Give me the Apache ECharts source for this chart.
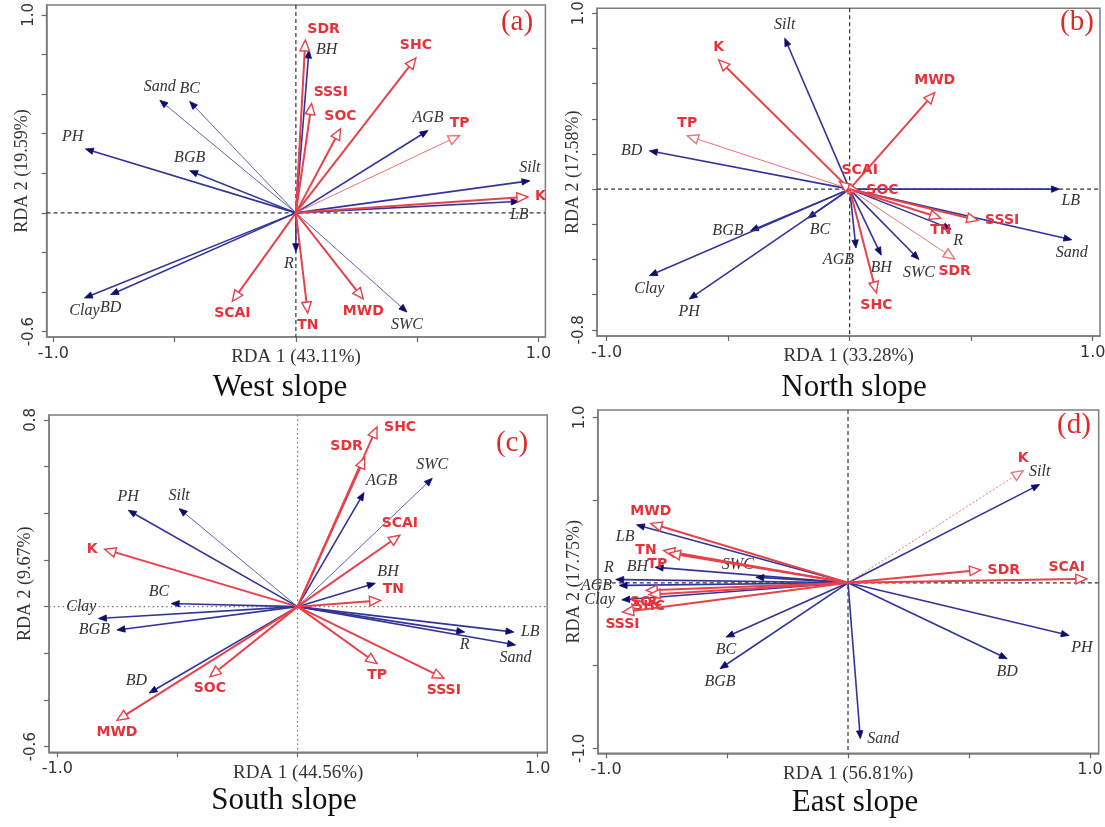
<!DOCTYPE html>
<html>
<head>
<meta charset="utf-8">
<script src="https://cdn.jsdelivr.net/npm/echarts@6/dist/echarts.min.js"></script>
<style>html,body{margin:0;padding:0;background:#fff}#c{width:1105px;height:827px}</style>
</head>
<body>
<div id="c"></div>
<script>
// ---------------- DATA ----------------
const panelTitles = ['West slope', 'North slope', 'South slope', 'East slope'];
const panelTags = ['(a)', '(b)', '(c)', '(d)'];
const xAxisNames = ['RDA 1 (43.11%)', 'RDA 1 (33.28%)', 'RDA 1 (44.56%)', 'RDA 1 (56.81%)'];
const yAxisNames = ['RDA 2 (19.59%)', 'RDA 2 (17.58%)', 'RDA 2 (9.67%)', 'RDA 2 (17.75%)'];
const xTickLabels = [-1.0, 1.0];
const yTickLabelsWest = [-0.6, 1.0];
const yTickLabelsNorth = [-0.8, 1.0];
const yTickLabelsSouth = [-0.6, 0.8];
const yTickLabelsEast = [-1.0, 1.0];

// West slope (a)
const westBlueNames = ['BH', 'Sand', 'BC', 'PH', 'BGB', 'AGB', 'Silt', 'LB', 'R', 'Clay', 'BD', 'SWC'];
const westBlueRDA1 = [0.054, -0.561, -0.438, -0.868, -0.438, 0.545, 0.965, 0.921, 0.000, -0.872, -0.764, 0.458];
const westBlueRDA2 = [0.822, 0.569, 0.563, 0.323, 0.213, 0.416, 0.162, 0.058, -0.196, -0.430, -0.413, -0.501];
const westRedNames = ['SDR', 'SHC', 'SSSI', 'SOC', 'TP', 'K', 'SCAI', 'TN', 'MWD'];
const westRedRDA1 = [0.039, 0.495, 0.065, 0.184, 0.675, 0.957, -0.262, 0.049, 0.278];
const westRedRDA2 = [0.873, 0.783, 0.552, 0.425, 0.391, 0.081, -0.447, -0.506, -0.435];

// North slope (b)
const northBlueNames = ['Silt', 'BD', 'LB', 'Sand', 'R', 'BGB', 'BC', 'AGB', 'BH', 'SWC', 'Clay', 'PH'];
const northBlueRDA1 = [-0.267, -0.824, 0.863, 0.914, 0.418, -0.408, -0.172, 0.026, 0.130, 0.285, -0.824, -0.660];
const northBlueRDA2 = [0.858, 0.218, 0.000, -0.288, -0.227, -0.237, -0.165, -0.335, -0.376, -0.400, -0.492, -0.625];
const northRedNames = ['K', 'TP', 'MWD', 'SCAI', 'SOC', 'TN', 'SSSI', 'SDR', 'SHC'];
const northRedRDA1 = [-0.539, -0.668, 0.350, -0.042, 0.040, 0.375, 0.528, 0.432, 0.110];
const northRedRDA2 = [0.735, 0.303, 0.549, 0.043, -0.008, -0.165, -0.178, -0.397, -0.590];

// South slope (c)
const southBlueNames = ['PH', 'Silt', 'BC', 'Clay', 'BGB', 'BD', 'AGB', 'SWC', 'BH', 'LB', 'R', 'Sand'];
const southBlueRDA1 = [-0.705, -0.493, -0.526, -0.829, -0.752, -0.618, 0.277, 0.561, 0.324, 0.901, 0.696, 0.908];
const southBlueRDA2 = [0.413, 0.420, 0.013, -0.051, -0.100, -0.370, 0.489, 0.550, 0.100, -0.109, -0.109, -0.164];
const southRedNames = ['SHC', 'SDR', 'SCAI', 'TN', 'K', 'SOC', 'MWD', 'TP', 'SSSI'];
const southRedRDA1 = [0.331, 0.280, 0.426, 0.346, -0.803, -0.365, -0.752, 0.331, 0.609];
const southRedRDA2 = [0.770, 0.639, 0.306, 0.027, 0.246, -0.300, -0.487, -0.244, -0.307];

// East slope (d)
const eastBlueNames = ['Silt', 'LB', 'BH', 'SWC', 'R', 'AGB', 'Clay', 'BC', 'BGB', 'Sand', 'BD', 'PH'];
const eastBlueRDA1 = [0.792, -0.874, -0.797, -0.381, -0.960, -0.946, -0.935, -0.504, -0.529, 0.051, 0.658, 0.914];
const eastBlueRDA2 = [0.594, 0.350, 0.094, 0.034, 0.020, -0.016, -0.103, -0.328, -0.519, -0.942, -0.459, -0.318];
const eastRedNames = ['K', 'MWD', 'TN', 'TP', 'SDR', 'SCAI', 'SOC', 'SHC', 'SSSI'];
const eastRedRDA1 = [0.724, -0.815, -0.762, -0.739, 0.548, 0.987, -0.834, -0.822, -0.932];
const eastRedRDA2 = [0.678, 0.359, 0.195, 0.179, 0.078, 0.024, -0.046, -0.071, -0.177];

// ---------------- LAYOUT / STYLE ----------------
const layout = [
  { left: 46.6, top: 5, width: 498.8, height: 332, xMin: -1.028, xMax: 1.029, yMin: -0.627, yMax: 1.050, yStep: 0.2, yLo: -0.6, yHi: 1.0, yLabels: yTickLabelsWest, dash: [4, 3], zeroColor: '#333' },
  { left: 597.1, top: 8.3, width: 502.9, height: 327.7, xMin: -1.039, xMax: 1.030, yMin: -0.835, yMax: 1.028, yStep: 0.2, yLo: -0.8, yHi: 1.0, yLabels: yTickLabelsNorth, dash: [4, 3], zeroColor: '#333' },
  { left: 49.1, top: 415, width: 498.1, height: 337.3, xMin: -1.0345, xMax: 1.0395, yMin: -0.624, yMax: 0.821, yStep: 0.2, yLo: -0.6, yHi: 0.8, yLabels: yTickLabelsSouth, dash: [1.5, 3], zeroColor: '#777' },
  { left: 597.8, top: 410, width: 500.9, height: 343.3, xMin: -1.034, xMax: 1.036, yMin: -1.030, yMax: 1.044, yStep: 0.5, yLo: -1.0, yHi: 1.0, yLabels: yTickLabelsEast, dash: [4, 3], zeroColor: '#333' }
];
const titlePos = [[280, 388], [854, 388], [284, 801], [855, 803]];
const tagPos = [[517, 22], [1077, 22], [512, 443], [1074, 425]];

const labelSide = [
  { BH: 'r', Sand: 't', BC: 't', PH: 'tl', BGB: 't', AGB: 't', Silt: 't', LB: 'b', R: 'bl', Clay: 'b', BD: 'b', SWC: 'b',
    SDR: 'tr', SHC: 't', SSSI: 'tr', SOC: 't', TP: 't', K: 'r', SCAI: 'b', TN: 'b', MWD: 'b' },
  { Silt: 't', BD: 'l', LB: 'br', Sand: 'b', R: 'br', BGB: 'l', BC: 'br', AGB: 'bl', BH: 'b', SWC: 'b', Clay: 'b', PH: 'b',
    K: 't', TP: 't', MWD: 't', SCAI: 'tr', SOC: 'r', TN: 'b', SSSI: 'r', SDR: 'b', SHC: 'b' },
  { PH: 't', Silt: 't', BC: 'tl', Clay: 'tl', BGB: 'l', BD: 'tl', AGB: 'tr', SWC: 't', BH: 'tr', LB: 'r', R: 'b', Sand: 'b',
    SHC: 'r', SDR: 'tl', SCAI: 't', TN: 'tr', K: 'l', SOC: 'b', MWD: 'b', TP: 'b', SSSI: 'b' },
  { Silt: 't', LB: 'bl', BH: 'l', SWC: 'tl', R: 'tl', AGB: 'l', Clay: 'l', BC: 'b', BGB: 'b', Sand: 'r', BD: 'b', PH: 'br',
    K: 't', MWD: 't', TN: 'l', TP: 'bl', SDR: 'r', SCAI: 'tl', SOC: 'b', SHC: 'b', SSSI: 'b' }
];
const thinLines = [
  { Sand: 1, BC: 1, SWC: 1, TP: 1 },
  { TP: 1, SDR: 1 },
  { SWC: 1, Silt: 1 },
  { K: 1 }
];
const dottedLines = [{}, {}, {}, { K: 1 }];

const BLUE_LINE = '#33339a', BLUE_HEAD = '#0d0d6a', BLUE_THIN = '#6262b0';
const RED_LINE = '#e8414a', RED_TEXT = '#e8323a', RED_THIN = '#ee7278';
const GREY_TEXT = '#333';

function labelPlace(code, p) {
  const G = 5;
  switch (code) {
    case 't': return { x: p[0], y: p[1] - G, align: 'center', va: 'bottom' };
    case 'b': return { x: p[0], y: p[1] + G, align: 'center', va: 'top' };
    case 'l': return { x: p[0] - G - 2, y: p[1], align: 'right', va: 'middle' };
    case 'r': return { x: p[0] + G + 2, y: p[1], align: 'left', va: 'middle' };
    case 'tl': return { x: p[0] - 2, y: p[1] - G + 1, align: 'right', va: 'bottom' };
    case 'tr': return { x: p[0] + 2, y: p[1] - G + 1, align: 'left', va: 'bottom' };
    case 'bl': return { x: p[0] - 2, y: p[1] + G - 1, align: 'right', va: 'top' };
    default: return { x: p[0] + 2, y: p[1] + G - 1, align: 'left', va: 'top' };
  }
}

function vectorSeries(pi, kind, names, xs, ys) {
  const data = xs.map((x, i) => [x, ys[i]]);
  return {
    type: 'custom', xAxisIndex: pi, yAxisIndex: pi, z: kind === 'red' ? 4 : 3, silent: true,
    encode: { x: 0, y: 1 },
    data: data,
    renderItem: function (params, api) {
      const i = params.dataIndex;
      const name = names[i];
      const o = api.coord([0, 0]);
      const p = api.coord([api.value(0), api.value(1)]);
      const dx = p[0] - o[0], dy = p[1] - o[1];
      const L = Math.hypot(dx, dy) || 1;
      const ux = dx / L, uy = dy / L;
      const thin = !!thinLines[pi][name];
      const dotted = !!dottedLines[pi][name];
      const children = [];
      if (kind === 'blue') {
        const hl = 8, hw = 3.2;
        const bx = p[0] - ux * hl, by = p[1] - uy * hl;
        children.push({ type: 'line', shape: { x1: o[0], y1: o[1], x2: bx, y2: by },
          style: { stroke: thin ? BLUE_THIN : BLUE_LINE, lineWidth: thin ? 1 : 1.6 } });
        children.push({ type: 'polygon', shape: { points: [[p[0], p[1]], [bx - uy * hw, by + ux * hw], [bx + uy * hw, by - ux * hw]] },
          style: { fill: BLUE_HEAD, stroke: BLUE_HEAD, lineWidth: 0.8 } });
        const lp = labelPlace(labelSide[pi][name], p);
        children.push({ type: 'text', x: lp.x, y: lp.y,
          style: { text: name, fill: GREY_TEXT, font: 'italic 16px "Liberation Serif", serif', align: lp.align, verticalAlign: lp.va } });
      } else {
        const hl = 11, hw = 4.8;
        const bx = p[0] - ux * hl, by = p[1] - uy * hl;
        children.push({ type: 'line', shape: { x1: o[0], y1: o[1], x2: bx, y2: by },
          style: { stroke: thin ? RED_THIN : RED_LINE, lineWidth: thin ? 1 : 2, lineDash: dotted ? [2, 2] : null } });
        children.push({ type: 'polygon', shape: { points: [[p[0], p[1]], [bx - uy * hw, by + ux * hw], [bx + uy * hw, by - ux * hw]] },
          style: { fill: '#fff', stroke: thin ? RED_THIN : RED_LINE, lineWidth: 1.4 } });
        const lp = labelPlace(labelSide[pi][name], p);
        children.push({ type: 'text', x: lp.x, y: lp.y,
          style: { text: name, fill: RED_TEXT, font: 'bold 14px "DejaVu Sans", sans-serif', align: lp.align, verticalAlign: lp.va } });
      }
      return { type: 'group', children: children };
    }
  };
}

function zeroSeries(pi) {
  const L = layout[pi];
  return {
    type: 'custom', xAxisIndex: pi, yAxisIndex: pi, z: 1, silent: true,
    encode: { x: 0, y: 1 },
    data: [[0, 0]],
    renderItem: function (params, api) {
      const cs = params.coordSys;
      const o = api.coord([0, 0]);
      const st = { stroke: L.zeroColor, lineWidth: 1.2, lineDash: L.dash };
      return { type: 'group', children: [
        { type: 'line', shape: { x1: cs.x, y1: o[1], x2: cs.x + cs.width, y2: o[1] }, style: st },
        { type: 'line', shape: { x1: o[0], y1: cs.y, x2: o[0], y2: cs.y + cs.height }, style: st }
      ] };
    }
  };
}

function range(lo, hi, step) {
  const out = [];
  for (let v = lo; v <= hi + 1e-9; v += step) out.push(Math.round(v * 10) / 10);
  return out;
}

const grids = [], xAxes = [], yAxes = [], series = [], graphics = [];
const panels = [
  [westBlueNames, westBlueRDA1, westBlueRDA2, westRedNames, westRedRDA1, westRedRDA2],
  [northBlueNames, northBlueRDA1, northBlueRDA2, northRedNames, northRedRDA1, northRedRDA2],
  [southBlueNames, southBlueRDA1, southBlueRDA2, southRedNames, southRedRDA1, southRedRDA2],
  [eastBlueNames, eastBlueRDA1, eastBlueRDA2, eastRedNames, eastRedRDA1, eastRedRDA2]
];

layout.forEach((L, pi) => {
  grids.push({ left: L.left, top: L.top, width: L.width, height: L.height, show: true,
    borderColor: '#7d7d7d', borderWidth: 1.5, backgroundColor: 'transparent', containLabel: false, outerBoundsMode: 'none' });
  xAxes.push({
    type: 'value', gridIndex: pi, min: L.xMin, max: L.xMax, position: 'bottom',
    axisLine: { show: true, onZero: false, lineStyle: { color: '#7d7d7d', width: 1.5 } },
    splitLine: { show: false },
    axisTick: { show: true, inside: false, length: 5, customValues: [-1, -0.5, 0, 0.5, 1], lineStyle: { color: '#666', width: 1.2 } },
    axisLabel: { show: true, customValues: xTickLabels, formatter: v => Number(v).toFixed(1), margin: 9,
      fontFamily: '"DejaVu Sans", sans-serif', fontSize: 16, color: '#333' },
    name: xAxisNames[pi], nameLocation: 'middle', nameGap: 11, nameMoveOverlap: false,
    nameTextStyle: { fontFamily: '"Liberation Serif", serif', fontSize: 19, color: '#333', verticalAlign: 'top' }
  });
  yAxes.push({
    type: 'value', gridIndex: pi, min: L.yMin, max: L.yMax, position: 'left',
    axisLine: { show: true, onZero: false, lineStyle: { color: '#7d7d7d', width: 1.5 } },
    splitLine: { show: false },
    axisTick: { show: true, inside: false, length: 5, customValues: range(L.yLo, L.yHi, L.yStep), lineStyle: { color: '#666', width: 1.2 } },
    axisLabel: { show: true, customValues: L.yLabels, formatter: v => Number(v).toFixed(1), rotate: 90, margin: 10,
      fontFamily: '"DejaVu Sans", sans-serif', fontSize: 15, color: '#333' },
    name: yAxisNames[pi], nameLocation: 'middle', nameGap: 15, nameRotate: 90, nameMoveOverlap: false,
    nameTextStyle: { fontFamily: '"Liberation Serif", serif', fontSize: 18, color: '#333' }
  });
  const P = panels[pi];
  series.push(zeroSeries(pi));
  series.push(vectorSeries(pi, 'blue', P[0], P[1], P[2]));
  series.push(vectorSeries(pi, 'red', P[3], P[4], P[5]));
  graphics.push({ type: 'text', x: titlePos[pi][0], y: titlePos[pi][1], silent: true,
    style: { text: panelTitles[pi], font: '31px "Liberation Serif", serif', fill: '#111', align: 'center', verticalAlign: 'middle' } });
  graphics.push({ type: 'text', x: tagPos[pi][0], y: tagPos[pi][1], silent: true,
    style: { text: panelTags[pi], font: '29px "Liberation Serif", serif', fill: '#e02a2a', align: 'center', verticalAlign: 'middle' } });
});

const chart = echarts.init(document.getElementById('c'), null, { renderer: 'canvas' });
chart.setOption({
  animation: false,
  backgroundColor: '#fff',
  grid: grids,
  xAxis: xAxes,
  yAxis: yAxes,
  series: series,
  graphic: graphics
});
</script>
</body>
</html>
